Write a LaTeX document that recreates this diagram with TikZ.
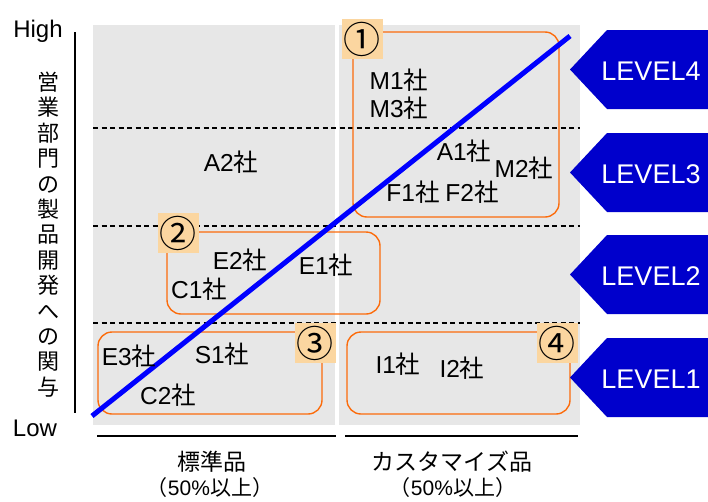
\documentclass[tikz,border=0pt]{standalone}
\usepackage{fontspec}
\setmainfont{Liberation Sans}
\newfontfamily\cjk{Noto Sans CJK JP}
\newcommand\sha{{\cjk 社}}
\definecolor{panelgray}{RGB}{231,231,231}
\definecolor{grporange}{RGB}{252,108,12}
\definecolor{badgepeach}{RGB}{251,214,160}
\definecolor{diagblue}{RGB}{0,0,255}
\definecolor{levelblue}{RGB}{0,0,204}
\begin{document}
\begin{tikzpicture}[x=1pt,y=-1pt,
  panel/.style={fill=panelgray},
  sep/.style={line width=1.3pt, dash pattern=on 5pt off 3.5pt},
  group/.style={draw=grporange, line width=1.4pt, rounded corners=14pt},
  badge/.style={fill=badgepeach, inner sep=0pt, minimum width=41pt, minimum height=40pt,
    font=\cjk\fontsize{37}{37}\selectfont},
  co/.style={inner sep=0pt, font=\fontsize{24.5}{25}\selectfont},
  lvshape/.style={fill=levelblue},
  lvtext/.style={text=white, inner sep=0pt, font=\fontsize{27}{28}\selectfont},
  axis/.style={line width=1.3pt},
  axlbl/.style={inner sep=0pt, font=\fontsize{24}{24}\selectfont},
  catlbl/.style={inner sep=0pt, font=\fontsize{23}{24}\selectfont},
  catsub/.style={inner sep=0pt, font=\fontsize{21}{22}\selectfont}]
\useasboundingbox (0,0) rectangle (708,501);

% background panels
\fill[panel] (93,25) rectangle (335,425);
\fill[panel] (339,25) rectangle (580,425);

% level separators
\draw[sep] (93,128) -- (580,128);
\draw[sep] (93,226) -- (580,226);
\draw[sep] (93,323) -- (580,323);

% groups
\draw[group] (353,32) rectangle (559,217);
\draw[group] (167,232) rectangle (380,314);
\draw[group] (98,332) rectangle (322,414);
\draw[group] (347,332) rectangle (570,414);

% diagonal trend
\coordinate (lineS) at (92,416);
\coordinate (lineE) at (570,36);
\draw[diagblue, line width=5pt] (lineS) -- (lineE);

% group numbers
\node[badge] (b1) at (362,39) {①};
\node[badge] (b2) at (178,233) {②};
\node[badge] (b3) at (315,343) {③};
\node[badge] (b4) at (557,343) {④};

% companies
\node[co] (m1) at (399,80) {M1\sha};
\node[co] (m3) at (399,108) {M3\sha};
\node[co] (a1) at (464,151) {A1\sha};
\node[co] (m2) at (524,168) {M2\sha};
\node[co] (f1) at (413,192) {F1\sha};
\node[co] (f2) at (472,192) {F2\sha};
\node[co] (a2) at (231,162) {A2\sha};
\node[co] (e2) at (240,260) {E2\sha};
\node[co] (e1) at (326,265) {E1\sha};
\node[co] (c1) at (199,289) {C1\sha};
\node[co] (e3) at (129,356) {E3\sha};
\node[co] (s1) at (222,354) {S1\sha};
\node[co] (c2) at (168,395) {C2\sha};
\node[co] (i1) at (398,364) {I1\sha};
\node[co] (i2) at (462,368) {I2\sha};

% level tags
\fill[lvshape] (708,30) -- (607,30) -- (570,69.5) -- (607,109) -- (708,109) -- cycle;
\fill[lvshape] (708,133) -- (607,133) -- (570,172.5) -- (607,212) -- (708,212) -- cycle;
\fill[lvshape] (708,235) -- (607,235) -- (570,274.5) -- (607,314) -- (708,314) -- cycle;
\fill[lvshape] (708,338) -- (607,338) -- (570,377.5) -- (607,417) -- (708,417) -- cycle;
\node[lvtext] (lv4) at (651,71) {LEVEL4};
\node[lvtext] (lv3) at (651,174) {LEVEL3};
\node[lvtext] (lv2) at (651,276) {LEVEL2};
\node[lvtext] (lv1) at (651,379) {LEVEL1};

% vertical axis
\coordinate (axTop) at (75,32);
\coordinate (axBot) at (75,413);
\draw[axis] (axTop) -- (axBot);
\node[axlbl] (high) at (38,31) {High};
\node[axlbl] (low) at (35,428) {Low};
\node[inner sep=0pt, align=center, font=\cjk\fontsize{22}{25.4}\selectfont] (ylab) at (48,234.5)
  {営\\業\\部\\門\\の\\製\\品\\開\\発\\へ\\の\\関\\与};

% horizontal categories
\coordinate (l1) at (97,436);
\coordinate (l2) at (336,436);
\coordinate (r1) at (345,436);
\coordinate (r2) at (578,436);
\draw[axis] (l1) -- (l2);
\draw[axis] (r1) -- (r2);
\node[catlbl] (std) at (212,462) {\cjk 標準品};
\node[catsub] (stdp) at (210,488) {{\cjk （}50\%{\cjk 以上）}};
\node[catlbl] (cus) at (452,462) {\cjk カスタマイズ品};
\node[catsub] (cusp) at (453,488) {{\cjk （}50\%{\cjk 以上）}};
\end{tikzpicture}
\end{document}
